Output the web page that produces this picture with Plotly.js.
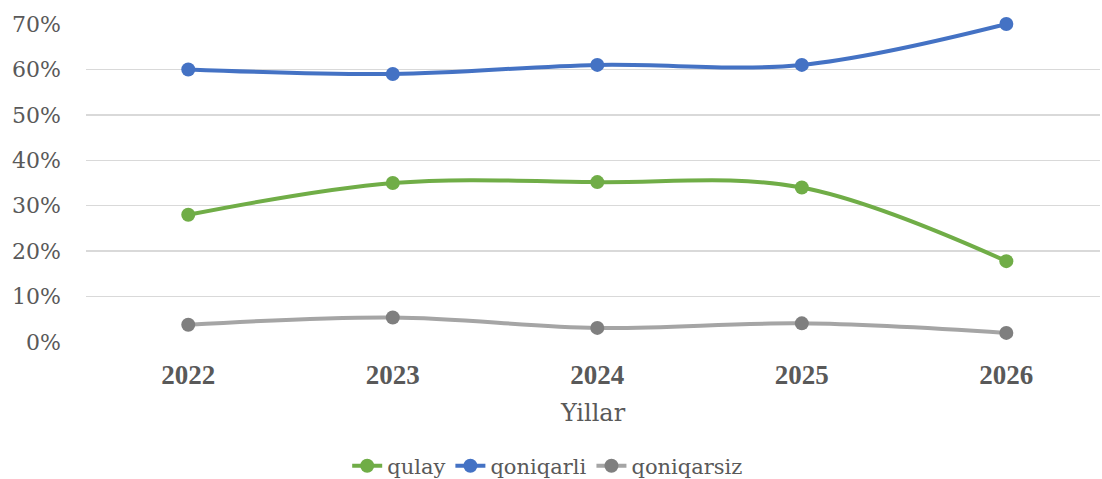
<!DOCTYPE html>
<html>
<head>
<meta charset="utf-8">
<script src="https://cdn.plot.ly/plotly-3.0.1.min.js"></script>
<style>
html,body{margin:0;padding:0;background:#fff;}
#chart{width:1102px;height:479px;}
</style>
</head>
<body>
<div id="chart"></div>
<script>
var years = ['2022', '2023', '2024', '2025', '2026'];
var qulay = [0.28, 0.35, 0.352, 0.34, 0.178];
var qoniqarli = [0.60, 0.59, 0.61, 0.61, 0.70];
var qoniqarsiz = [0.038, 0.054, 0.031, 0.041, 0.02];
var seriesNames = ['qulay', 'qoniqarli', 'qoniqarsiz'];

var FONT_BOLD = 'Liberation Serif';
var FONT = 'DejaVu Serif';

function mk(name, y, lineColor, markerColor) {
  return {
    type: 'scatter', mode: 'lines+markers', name: name,
    x: years, y: y,
    line: {color: lineColor, width: 4, shape: 'spline', smoothing: 1},
    marker: {color: markerColor, size: 14},
    cliponaxis: false
  };
}

var data = [
  mk(seriesNames[0], qulay, '#70AD47', '#70AD47'),
  mk(seriesNames[1], qoniqarli, '#4472C4', '#4472C4'),
  mk(seriesNames[2], qoniqarsiz, '#A5A5A5', '#7F7F7F')
];

var layout = {
  width: 1102, height: 479,
  margin: {l: 86, r: 2, t: 24, b: 137},
  paper_bgcolor: '#fff', plot_bgcolor: '#fff',
  font: {family: FONT, color: '#595959', size: 22},
  showlegend: true,
  legend: {
    orientation: 'h', xref: 'container', yref: 'container',
    x: 0.497, xanchor: 'center', y: 0.027, yanchor: 'middle',
    font: {family: FONT, size: 21, color: '#595959'},
    tracegroupgap: 0
  },
  xaxis: {
    type: 'category', range: [-0.5, 4.458],
    showgrid: false, zeroline: false, showline: false, ticks: '',
    tickfont: {family: FONT_BOLD, size: 27, color: '#595959', weight: 'bold'},
    ticklabelstandoff: 14,
    title: {text: 'Yillar', font: {family: FONT, size: 24, color: '#595959'}, standoff: 15}
  },
  yaxis: {
    range: [0, 0.7], tickvals: [0, 0.1, 0.2, 0.3, 0.4, 0.5, 0.6, 0.7],
    tickformat: '.0%', showgrid: true, gridcolor: '#D9D9D9', gridwidth: 1.5,
    zeroline: false, showline: false, ticks: '',
    tickfont: {family: FONT, size: 22, color: '#595959'},
    ticklabelstandoff: 24
  }
};

Plotly.newPlot('chart', data, layout, {staticPlot: true});
</script>
</body>
</html>
